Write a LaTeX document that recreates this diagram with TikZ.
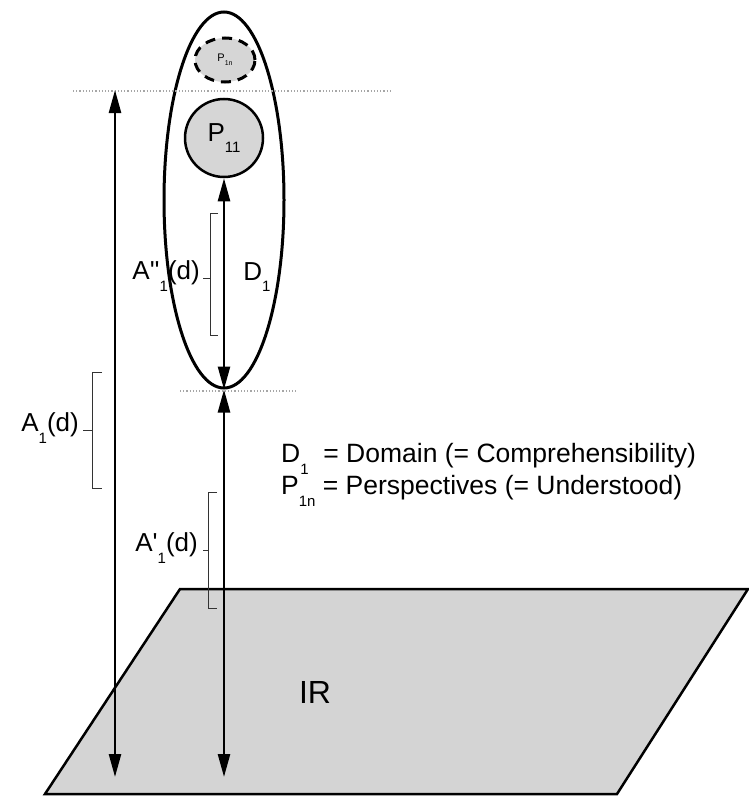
\documentclass[tikz,border=0pt]{standalone}
\usepackage{fontspec}
\setmainfont{Liberation Sans}
\usepackage{tikz}
\usetikzlibrary{arrows.meta, shapes.geometric}

\newcommand{\sbs}[1]{\raisebox{-0.45em}{\fontsize{15}{15}\selectfont #1}}

\begin{document}
\begin{tikzpicture}[x=1pt, y=-1pt,
    arr/.style={{Triangle[length=23pt,width=12pt]}-{Triangle[length=23pt,width=12pt]}, line width=2.5pt},
    brk/.style={line width=1pt, black!80},
    lbl/.style={font=\fontsize{26}{26}\selectfont, inner sep=0pt},
    guide/.style={dotted, line width=1.2pt, black!35},
    bubble/.style={circle, draw, line width=2.5pt, fill=black!16, inner sep=0pt}]
  \useasboundingbox (0,0) rectangle (748,803);

  % plane
  \draw[line width=2.5pt, fill=black!17, line join=miter] (180,589) -- (748,589) -- (617,794) -- (45,794) -- cycle;
  \node[font=\fontsize{32}{32}\selectfont] (ir) at (315,692) {IR};

  % domain with perspectives
  \node[ellipse, draw, line width=3pt, minimum width=120pt, minimum height=376pt] (dom) at (224,200) {};
  \node[bubble, minimum size=78pt, font=\fontsize{26}{26}\selectfont] (p11) at (224,138) {P\sbs{11}};
  \node[ellipse, draw, dashed, dash pattern=on 10pt off 7pt, line width=3pt, fill=black!16, minimum width=60pt, minimum height=44pt, inner sep=0pt, font=\fontsize{11}{11}\selectfont] (p1n) at (225,60) {P\raisebox{-0.4em}{\fontsize{7}{7}\selectfont 1n}};

  % dotted guides
  \draw[guide] (73,91) -- (390,91);
  \draw[guide] (180,391) -- (298,391);

  % distances
  \coordinate (top) at (115,90);
  \coordinate (g0) at (115,777);
  \coordinate (g1) at (224,777);
  \draw[arr] (top) -- (g0);
  \draw[arr] (p11.south) -- (dom.south);
  \draw[arr] (dom.south) -- (g1);
  \node[lbl] (d1) at (257,277) {D\sbs{1}};

  % brackets
  \draw[brk] (218,213) -- (210,213) -- (210,335) -- (218,335);
  \draw[brk] (210,278) -- (203,278);
  \node[lbl, anchor=east] (a2) at (200,276) {A\textquotesingle\textquotesingle\sbs{1}(d)};
  \draw[brk] (102,372) -- (92,372) -- (92,488) -- (102,488);
  \draw[brk] (92,430) -- (83,430);
  \node[lbl, anchor=east] (a0) at (79,428) {A\sbs{1}(d)};
  \draw[brk] (217,492) -- (208,492) -- (208,608) -- (217,608);
  \draw[brk] (208,550) -- (203,550);
  \node[lbl, anchor=east] (a1) at (198,548) {A\textquotesingle\sbs{1}(d)};

  % legend
  \node[lbl, anchor=north west, align=left, font=\fontsize{26.5}{24}\selectfont] (key) at (281,443)
    {D\sbs{1}\ \ = Domain (= Comprehensibility)\\P\sbs{1n} = Perspectives (= Understood)};
\end{tikzpicture}
\end{document}
